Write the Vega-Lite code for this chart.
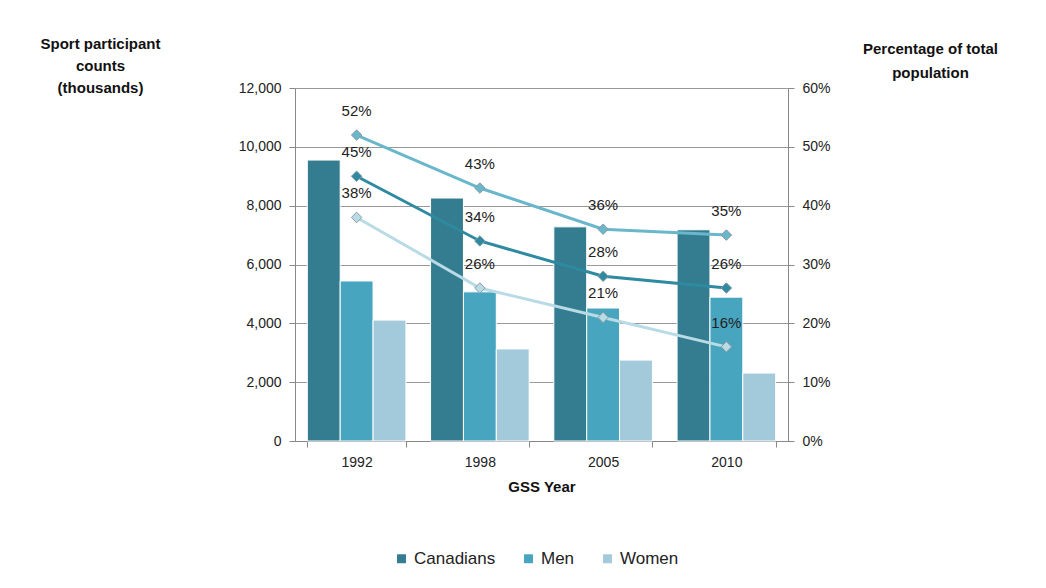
{
  "$schema": "https://vega.github.io/schema/vega-lite/v6.json",
  "width": 493,
  "height": 353,
  "autosize": {"type": "none"},
  "padding": {"left": 295, "top": 88, "right": 258, "bottom": 147},
  "background": "white",
  "config": {
    "font": "Liberation Sans",
    "view": {"stroke": null},
    "axis": {"labelFont": "Liberation Sans", "titleFont": "Liberation Sans", "labelColor": "#222", "titleColor": "#111"}
  },
  "data": {
    "values": [
      {"year": "1992", "series": "Canadians", "count": 9550, "pct": 0.45},
      {"year": "1992", "series": "Men", "count": 5440, "pct": 0.52},
      {"year": "1992", "series": "Women", "count": 4110, "pct": 0.38},
      {"year": "1998", "series": "Canadians", "count": 8260, "pct": 0.34},
      {"year": "1998", "series": "Men", "count": 5070, "pct": 0.43},
      {"year": "1998", "series": "Women", "count": 3130, "pct": 0.26},
      {"year": "2005", "series": "Canadians", "count": 7280, "pct": 0.28},
      {"year": "2005", "series": "Men", "count": 4520, "pct": 0.36},
      {"year": "2005", "series": "Women", "count": 2750, "pct": 0.21},
      {"year": "2010", "series": "Canadians", "count": 7180, "pct": 0.26},
      {"year": "2010", "series": "Men", "count": 4890, "pct": 0.35},
      {"year": "2010", "series": "Women", "count": 2310, "pct": 0.16}
    ]
  },
  "encoding": {
    "x": {
      "field": "year", "type": "nominal",
      "scale": {"paddingInner": 0.2, "paddingOuter": 0.1},
      "axis": {
        "title": "GSS Year", "titleFontSize": 15, "titleFontWeight": "bold", "titlePadding": 10,
        "labelAngle": 0, "labelFontSize": 14, "labelPadding": 8,
        "tickBand": "extent", "tickSize": 6, "tickColor": "#888", "domainColor": "#888", "grid": false
      }
    }
  },
  "layer": [
    {
      "mark": {"type": "bar", "stroke": "white", "strokeWidth": 1},
      "encoding": {
        "xOffset": {"field": "series", "type": "nominal", "scale": {"paddingInner": 0, "paddingOuter": 0}},
        "y": {
          "field": "count", "type": "quantitative",
          "scale": {"domain": [0, 12000]},
          "axis": {
            "values": [0, 2000, 4000, 6000, 8000, 10000, 12000], "format": ",.0f",
            "title": ["Sport participant", "counts", "(thousands)"],
            "titleAngle": 0, "titleAlign": "center", "titleBaseline": "top",
            "titleX": -195, "titleY": -52, "titleFontSize": 15, "titleFontWeight": "bold", "titleLineHeight": 22,
            "labelFontSize": 14, "labelPadding": 8, "tickSize": 6, "tickColor": "#888", "domainColor": "#888",
            "grid": true, "gridColor": "#999", "gridWidth": 1
          }
        },
        "color": {
          "field": "series", "type": "nominal",
          "scale": {"domain": ["Canadians", "Men", "Women"], "range": ["#347c8f", "#48a5bf", "#a3cadb"]},
          "legend": {
            "title": null, "orient": "none", "direction": "horizontal",
            "legendX": 98, "legendY": 462,
            "symbolType": "square", "symbolSize": 80, "labelFontSize": 17, "labelColor": "#222",
            "columnPadding": 24, "symbolStrokeWidth": 0
          }
        }
      }
    },
    {
      "layer": [
        {
          "mark": {"type": "line", "strokeWidth": 3},
          "encoding": {
            "y": {
              "field": "pct", "type": "quantitative",
              "scale": {"domain": [0, 0.6]},
              "axis": {
                "orient": "right", "values": [0, 0.1, 0.2, 0.3, 0.4, 0.5, 0.6], "format": ".0%",
                "title": ["Percentage  of total", "population"],
                "titleAngle": 0, "titleAlign": "center", "titleBaseline": "top",
                "titleX": 142, "titleY": -47, "titleFontSize": 15, "titleFontWeight": "bold", "titleLineHeight": 24,
                "labelFontSize": 14, "labelPadding": 8, "tickSize": 6, "tickColor": "#888", "domainColor": "#888",
                "grid": false
              }
            },
            "color": {
              "field": "series", "type": "nominal",
              "scale": {"domain": ["Canadians", "Men", "Women"], "range": ["#2e8aa1", "#6ab7cc", "#b8dbe6"]},
              "legend": null
            }
          }
        },
        {
          "mark": {"type": "point", "shape": "diamond", "filled": true, "size": 110, "stroke": "#8a9aa0", "strokeWidth": 1, "opacity": 1},
          "encoding": {
            "y": {"field": "pct", "type": "quantitative"},
            "color": {"field": "series", "type": "nominal", "legend": null}
          }
        },
        {
          "mark": {"type": "text", "dy": -24, "fontSize": 15, "color": "#222"},
          "encoding": {
            "y": {"field": "pct", "type": "quantitative"},
            "text": {"field": "pct", "type": "quantitative", "format": ".0%"}
          }
        }
      ]
    }
  ],
  "resolve": {"scale": {"y": "independent", "color": "independent"}}
}
